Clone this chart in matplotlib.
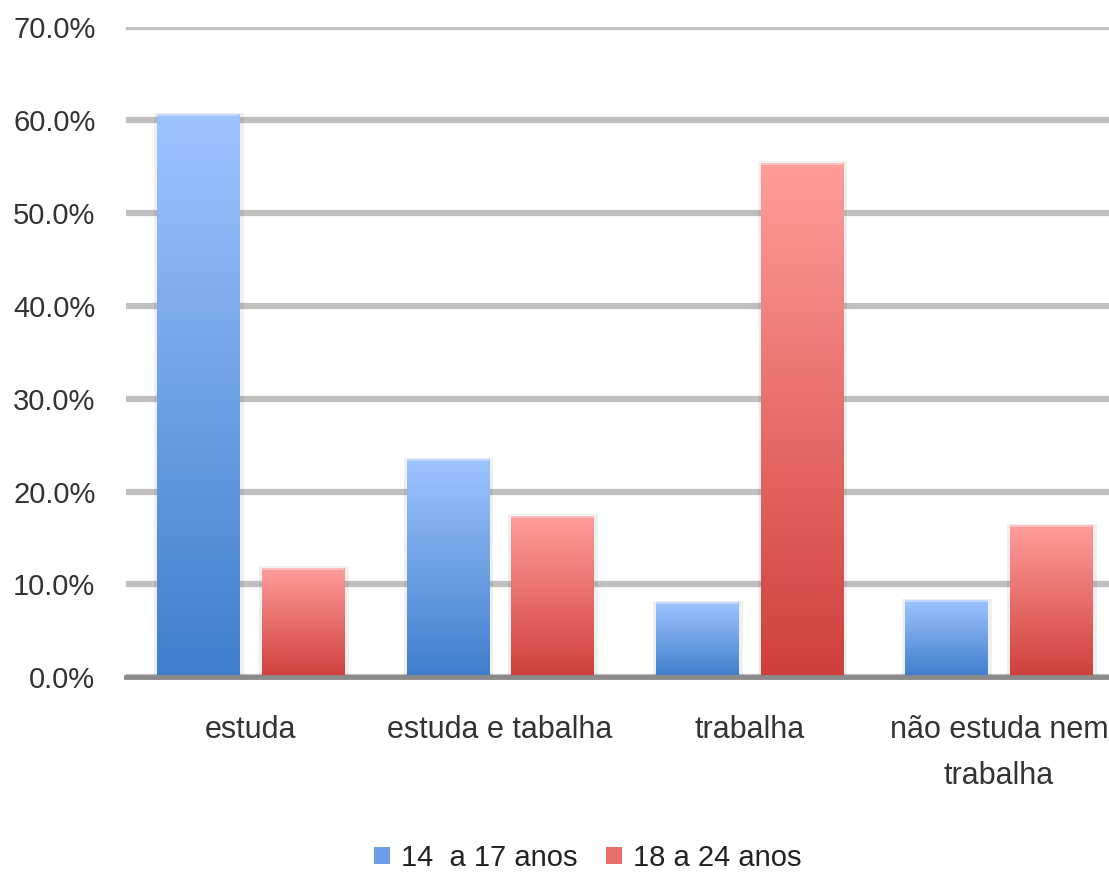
import matplotlib
matplotlib.use("Agg")
import matplotlib.pyplot as plt
import numpy as np
from matplotlib.colors import LinearSegmentedColormap
from matplotlib.patches import Patch
from matplotlib import font_manager

categories = ["estuda", "estuda e tabalha", "trabalha", "não estuda nem\ntrabalha"]
series_names = ["14  a 17 anos", "18 a 24 anos"]
vals_14_17 = [60.5, 23.4, 8.0, 8.2]
vals_18_24 = [11.7, 17.3, 55.3, 16.3]
yticks = [0, 10, 20, 30, 40, 50, 60, 70]

names = {f.name for f in font_manager.fontManager.ttflist}
fam = ["Liberation Sans Narrow"] if "Liberation Sans Narrow" in names else ["Liberation Sans"]
plt.rcParams["font.family"] = fam + ["DejaVu Sans"]

W, H = 1109, 872
fig = plt.figure(figsize=(W / 100, H / 100), dpi=100)
ax = fig.add_axes([126 / W, (H - 677.3) / H, (1123.5 - 126) / W, (677.3 - 27) / H])

blue_cmap = LinearSegmentedColormap.from_list("b", ["#3F7ECC", "#9EC4FF"])
red_cmap = LinearSegmentedColormap.from_list("r", ["#CF3F3B", "#FF9D9B"])

x = np.arange(len(categories))
off = 0.21
bw = 0.33
b1 = ax.bar(x - off, vals_14_17, bw, color="none", zorder=3)
b2 = ax.bar(x + off, vals_18_24, bw, color="none", zorder=3)

grad = np.linspace(0, 1, 256).reshape(-1, 1)
for bars, cmap in ((b1, blue_cmap), (b2, red_cmap)):
    for p in bars:
        x0, y0 = p.get_x(), p.get_y()
        w, h = p.get_width(), p.get_height()
        # soft shadow
        ax.add_patch(plt.Rectangle((x0 - 0.012, y0), w + 0.03, h + 0.25,
                                   facecolor="#000000", alpha=0.06, lw=0, zorder=2.5))
        ax.imshow(grad, extent=[x0, x0 + w, y0, y0 + h], origin="lower",
                  cmap=cmap, aspect="auto", zorder=3)
        ax.add_patch(plt.Rectangle((x0, y0 + h - 0.12), w, 0.25,
                                   facecolor="white", alpha=0.35, lw=0, zorder=3.2))

ax.set_xlim(-0.5, 3.5)
ax.set_ylim(0, 70)
ax.set_yticks(yticks)
ax.set_yticklabels([f"{v:.1f}%" for v in yticks])
ax.set_xticks(x)
ax.set_xticklabels(categories, linespacing=1.7)
ax.tick_params(axis="both", length=0, colors="#333333")
ax.tick_params(axis="y", pad=22, labelsize=21)
ax.tick_params(axis="x", pad=27, labelsize=22)
for s in ["top", "right", "left"]:
    ax.spines[s].set_visible(False)
ax.spines["bottom"].set_color("#8a8a8a")
ax.spines["bottom"].set_linewidth(3.5)
ax.spines["bottom"].set_zorder(4)
ax.yaxis.grid(True, color="#c0c0c0", linewidth=4.5, zorder=0)
ax.set_axisbelow(True)

handles = [Patch(facecolor="#6A9FE6", edgecolor="none"),
           Patch(facecolor="#E86E6B", edgecolor="none")]
fig.legend(handles, series_names, loc="center", bbox_to_anchor=(0.53, 14 / H),
           ncol=2, frameon=False, fontsize=21, handlelength=0.55, handleheight=0.55,
           handletextpad=0.35, columnspacing=1.0, labelcolor="#222222")

fig.savefig("out.png", dpi=100)
